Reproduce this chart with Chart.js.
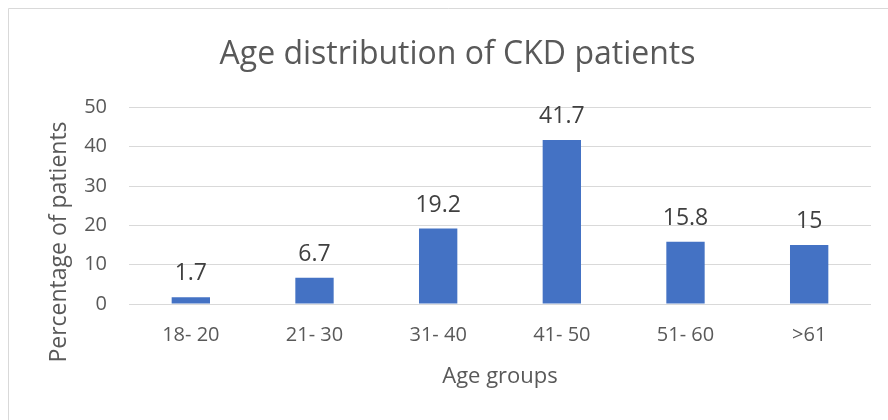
<!DOCTYPE html>
<html>
<head>
<meta charset="utf-8">
<script src="https://cdn.jsdelivr.net/npm/chart.js@4.4.1/dist/chart.umd.min.js"></script>
<style>
  html, body { margin: 0; padding: 0; background: #fff; }
  #wrap { width: 888px; height: 420px; }
</style>
</head>
<body>
<div id="wrap"><canvas id="chart" width="888" height="420"></canvas></div>
<script>
// данные графика
const ageGroups = ['18- 20', '21- 30', '31- 40', '41- 50', '51- 60', '>61'];
const patientShare = [1.7, 6.7, 19.2, 41.7, 15.8, 15];
const yTicks = [0, 10, 20, 30, 40, 50];

const textColor = '#595959';
const gridColor = '#d9d9d9';
const barColor = '#4472C4';
const fontFamily = '"Open Sans", "DejaVu Sans", sans-serif';

// рамка вокруг диаграммы (видны только верх и левый край)
const frameLines = {
  id: 'frameLines',
  beforeDraw(chart) {
    const c = chart.ctx;
    c.save();
    c.fillStyle = '#fff';
    c.fillRect(0, 0, chart.width, chart.height);
    c.strokeStyle = gridColor;
    c.lineWidth = 1;
    c.beginPath();
    c.moveTo(8.5, chart.height);
    c.lineTo(8.5, 8.5);
    c.lineTo(chart.width, 8.5);
    c.stroke();
    c.restore();
  },
};

// подписи значений над столбцами и подпись оси Y (смещена вниз, как в Excel)
const valueLabels = {
  id: 'valueLabels',
  afterDatasetsDraw(chart) {
    const c = chart.ctx;
    const meta = chart.getDatasetMeta(0);
    c.save();
    c.fillStyle = '#404040';
    c.font = '23px ' + fontFamily;
    c.textAlign = 'center';
    c.textBaseline = 'alphabetic';
    meta.data.forEach((bar, i) => {
      c.fillText(String(patientShare[i]), bar.x, bar.y - 17);
    });

    c.fillStyle = textColor;
    c.font = '23px ' + fontFamily;
    c.textBaseline = 'middle';
    c.translate(59, 242);
    c.rotate(-Math.PI / 2);
    c.fillText('Percentage of patients', 0, 0);
    c.restore();
  },
};

new Chart(document.getElementById('chart'), {
  type: 'bar',
  data: {
    labels: ageGroups,
    datasets: [
      {
        data: patientShare,
        backgroundColor: barColor,
        borderWidth: 0,
        barPercentage: 0.31,
        categoryPercentage: 1,
      },
    ],
  },
  options: {
    responsive: false,
    animation: false,
    layout: { padding: { left: 44, right: 17, top: 0, bottom: 26 } },
    plugins: {
      legend: { display: false },
      tooltip: { enabled: false },
      title: {
        display: true,
        text: 'Age distribution of CKD patients',
        color: textColor,
        font: { family: fontFamily, size: 32, weight: 'normal' },
        padding: { top: 36, bottom: 33 },
      },
    },
    scales: {
      x: {
        grid: { display: false, drawTicks: false },
        border: { display: false },
        ticks: {
          color: textColor,
          font: { family: fontFamily, size: 20 },
          padding: 19,
          maxRotation: 0,
        },
        title: {
          display: true,
          text: 'Age groups',
          color: textColor,
          font: { family: fontFamily, size: 22 },
          padding: { top: 4, bottom: 4 },
        },
        afterFit(scale) {
          scale.height = 90;
        },
      },
      y: {
        min: 0,
        max: 50,
        afterBuildTicks(scale) {
          scale.ticks = yTicks.map((v) => ({ value: v }));
        },
        grid: { color: gridColor, lineWidth: 1, drawTicks: false },
        border: { display: false },
        ticks: {
          color: textColor,
          font: { family: fontFamily, size: 20 },
          padding: 22,
        },
        afterFit(scale) {
          scale.width = 85;
        },
      },
    },
  },
  plugins: [frameLines, valueLabels],
});
</script>
</body>
</html>
